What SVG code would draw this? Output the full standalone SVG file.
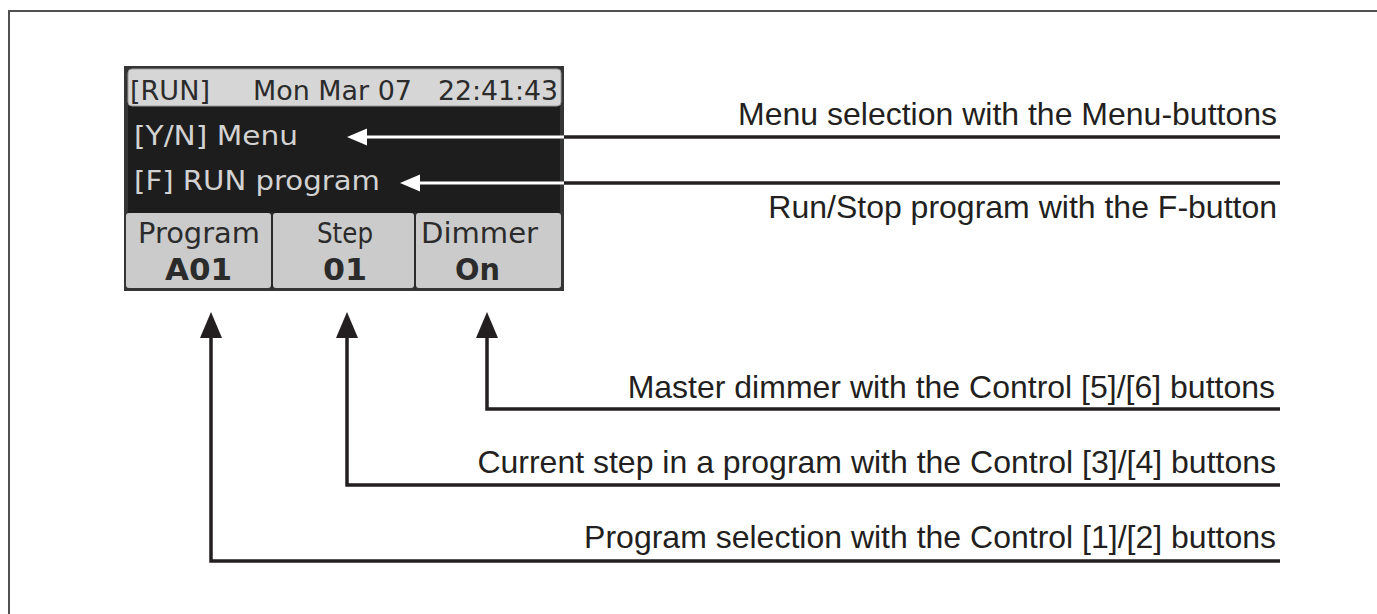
<svg xmlns="http://www.w3.org/2000/svg" width="1377" height="614" viewBox="0 0 1377 614">
<style>
.lbl{font-family:"Liberation Sans",Arial,sans-serif;font-size:32px;fill:#231f20;text-anchor:end}
.lcd{font-family:"DejaVu Sans",sans-serif}
.dk{fill:#2b2b2b}
.lt{fill:#d2d2d2}
.ln{fill:none;stroke:#231f20;stroke-width:3.5;stroke-linejoin:miter}
.wl{fill:none;stroke:#ffffff;stroke-width:3}
</style>
<rect width="1377" height="614" fill="#ffffff"/>
<path d="M9,614 V11 H1377" fill="none" stroke="#505050" stroke-width="2"/>
<g id="lcd">
<rect x="124" y="66" width="440" height="225" fill="#353535"/>
<rect x="128" y="76" width="432" height="137" fill="#1d1d1d"/>
<rect x="128" y="69" width="433" height="37" rx="4" fill="#d6d6d6" stroke="#9a9a9a" stroke-width="1"/>
<text class="lcd dk" x="130" y="100" font-size="27" textLength="80" lengthAdjust="spacingAndGlyphs">[RUN]</text>
<text class="lcd dk" x="253" y="100" font-size="27" textLength="159" lengthAdjust="spacingAndGlyphs">Mon Mar 07</text>
<text class="lcd dk" x="438" y="100" font-size="27" textLength="120" lengthAdjust="spacingAndGlyphs">22:41:43</text>
<text class="lcd lt" x="134" y="145" font-size="27" textLength="164" lengthAdjust="spacingAndGlyphs">[Y/N] Menu</text>
<text class="lcd lt" x="134" y="190" font-size="27" textLength="246" lengthAdjust="spacingAndGlyphs">[F] RUN program</text>
<rect x="126" y="213" width="145" height="75" rx="3" fill="#cbcbcb"/>
<rect x="273" y="213" width="141" height="75" rx="3" fill="#cbcbcb"/>
<rect x="416" y="213" width="145" height="75" rx="3" fill="#cbcbcb"/>
<line x1="272" y1="212" x2="272" y2="289" stroke="#2a2a2a" stroke-width="2"/>
<line x1="415" y1="212" x2="415" y2="289" stroke="#2a2a2a" stroke-width="2"/>
<text class="lcd dk" x="138" y="243" font-size="28" textLength="122" lengthAdjust="spacingAndGlyphs">Program</text>
<text class="lcd dk" x="165" y="280" font-size="31" font-weight="bold" textLength="67" lengthAdjust="spacingAndGlyphs">A01</text>
<text class="lcd dk" x="317" y="243" font-size="28" textLength="56" lengthAdjust="spacingAndGlyphs">Step</text>
<text class="lcd dk" x="323" y="280" font-size="31" font-weight="bold" textLength="44" lengthAdjust="spacingAndGlyphs">01</text>
<text class="lcd dk" x="421" y="243" font-size="28" textLength="117" lengthAdjust="spacingAndGlyphs">Dimmer</text>
<text class="lcd dk" x="455" y="280" font-size="31" font-weight="bold" textLength="45" lengthAdjust="spacingAndGlyphs">On</text>
</g>
<g id="connectors">
<line class="wl" x1="365" y1="137" x2="564" y2="137"/>
<polygon points="347,137 367,128.5 367,145.5" fill="#ffffff"/>
<line class="ln" x1="564" y1="137" x2="1280" y2="137"/>
<line class="wl" x1="418" y1="183" x2="564" y2="183"/>
<polygon points="400,183 420,174.5 420,191.5" fill="#ffffff"/>
<line class="ln" x1="564" y1="183" x2="1280" y2="183"/>
<path class="ln" d="M487,335 V409 H1280"/>
<polygon points="487,312 476,338 498,338" fill="#231f20"/>
<path class="ln" d="M347,335 V485 H1280"/>
<polygon points="347,312 336,338 358,338" fill="#231f20"/>
<path class="ln" d="M211,335 V561 H1280"/>
<polygon points="211,312 200,338 222,338" fill="#231f20"/>
</g>
<g id="label-menu"><text class="lbl" x="1277" y="125">Menu selection with the Menu-buttons</text></g>
<g id="label-run"><text class="lbl" x="1277" y="218">Run/Stop program with the F-button</text></g>
<g id="label-dimmer"><text class="lbl" x="1275" y="398">Master dimmer with the Control [5]/[6] buttons</text></g>
<g id="label-step"><text class="lbl" x="1276" y="473">Current step in a program with the Control [3]/[4] buttons</text></g>
<g id="label-program"><text class="lbl" x="1276" y="548">Program selection with the Control [1]/[2] buttons</text></g>
</svg>
